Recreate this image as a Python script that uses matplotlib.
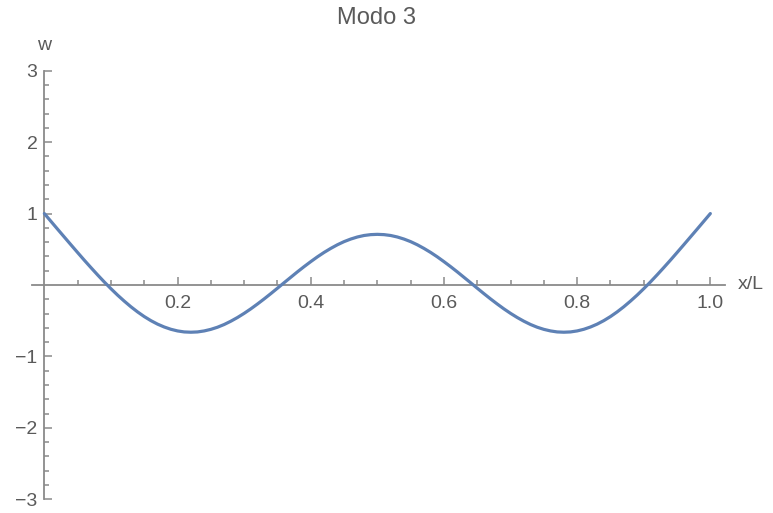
import matplotlib
matplotlib.use("Agg")
import matplotlib.pyplot as plt
from matplotlib.ticker import FixedLocator, FuncFormatter

# Mode 3 shape of the beam, sampled along x/L every 0.01
x_over_L = [0.00, 0.01, 0.02, 0.03, 0.04, 0.05, 0.06, 0.07, 0.08, 0.09,
            0.10, 0.11, 0.12, 0.13, 0.14, 0.15, 0.16, 0.17, 0.18, 0.19,
            0.20, 0.21, 0.22, 0.23, 0.24, 0.25, 0.26, 0.27, 0.28, 0.29,
            0.30, 0.31, 0.32, 0.33, 0.34, 0.35, 0.36, 0.37, 0.38, 0.39,
            0.40, 0.41, 0.42, 0.43, 0.44, 0.45, 0.46, 0.47, 0.48, 0.49,
            0.50, 0.51, 0.52, 0.53, 0.54, 0.55, 0.56, 0.57, 0.58, 0.59,
            0.60, 0.61, 0.62, 0.63, 0.64, 0.65, 0.66, 0.67, 0.68, 0.69,
            0.70, 0.71, 0.72, 0.73, 0.74, 0.75, 0.76, 0.77, 0.78, 0.79,
            0.80, 0.81, 0.82, 0.83, 0.84, 0.85, 0.86, 0.87, 0.88, 0.89,
            0.90, 0.91, 0.92, 0.93, 0.94, 0.95, 0.96, 0.97, 0.98, 0.99,
            1.00]
w = [1.000, 0.890, 0.780, 0.671, 0.562, 0.454, 0.347, 0.243, 0.141, 0.042,
     -0.052, -0.142, -0.226, -0.305, -0.377, -0.442, -0.499, -0.548, -0.588, -0.620,
     -0.643, -0.657, -0.661, -0.657, -0.643, -0.621, -0.591, -0.553, -0.507, -0.455,
     -0.397, -0.334, -0.266, -0.195, -0.121, -0.045, 0.032, 0.108, 0.184, 0.257,
     0.327, 0.394, 0.456, 0.512, 0.563, 0.607, 0.643, 0.672, 0.693, 0.705,
     0.709, 0.705, 0.693, 0.672, 0.643, 0.607, 0.563, 0.512, 0.456, 0.394,
     0.327, 0.257, 0.184, 0.108, 0.032, -0.045, -0.121, -0.195, -0.266, -0.334,
     -0.397, -0.455, -0.507, -0.553, -0.591, -0.621, -0.643, -0.657, -0.661, -0.657,
     -0.643, -0.620, -0.588, -0.548, -0.499, -0.442, -0.377, -0.305, -0.226, -0.142,
     -0.052, 0.042, 0.141, 0.243, 0.347, 0.454, 0.562, 0.671, 0.780, 0.890,
     1.000]

x_ticks = [0.2, 0.4, 0.6, 0.8, 1.0]
y_ticks = [-3, -2, -1, 1, 2, 3]

title = "Modo 3"
x_label = "x/L"
y_label = "w"

line_color = "#5E81B5"
axis_color = "#8a8a8a"
text_color = "#5a5a5a"

plt.rcParams["font.family"] = ["Liberation Sans", "DejaVu Sans"]

fig = plt.figure(figsize=(7.73, 5.13), dpi=100)
ax = fig.add_axes([0.0410, 0.0267, 0.8969, 0.8355])

ax.plot(x_over_L, w, color=line_color, lw=2.3, solid_joinstyle="round",
        solid_capstyle="round", zorder=3)

ax.set_xlim(-0.019, 1.022)
ax.set_ylim(-3, 3)

# axes crossing at the origin
for side in ("top", "right"):
    ax.spines[side].set_visible(False)
ax.spines["left"].set_position(("data", 0))
ax.spines["bottom"].set_position(("data", 0))
for side in ("left", "bottom"):
    ax.spines[side].set_color(axis_color)
    ax.spines[side].set_linewidth(1.3)
    ax.spines[side].set_zorder(2)

ax.xaxis.set_major_locator(FixedLocator(x_ticks))
ax.yaxis.set_major_locator(FixedLocator(y_ticks))
# minor ticks, leaving the origin free
ax.xaxis.set_minor_locator(FixedLocator([i * 0.05 for i in range(1, 21)]))
ax.yaxis.set_minor_locator(FixedLocator([i * 0.2 for i in range(-15, 16) if i != 0]))

ax.xaxis.set_major_formatter(FuncFormatter(lambda v, p: f"{v:.1f}"))
ax.yaxis.set_major_formatter(FuncFormatter(lambda v, p: f"{int(round(v))}".replace("-", "\u2212")))

ax.tick_params(which="both", direction="in", color=axis_color, width=1.1)
ax.tick_params(which="major", length=6, labelsize=14, labelcolor=text_color)
ax.tick_params(which="minor", length=3.5)
ax.tick_params(axis="x", which="major", pad=7)
ax.tick_params(axis="y", which="major", pad=5)

fig.text(0.487, 0.965, title, ha="center", va="center", fontsize=17, color=text_color)
ax.annotate(y_label, xy=(0, 3), xycoords="data", xytext=(0, 12),
            textcoords="offset points", ha="center", va="bottom",
            fontsize=14, color=text_color, annotation_clip=False)
ax.annotate(x_label, xy=(1.022, 0), xycoords="data", xytext=(9, 0),
            textcoords="offset points", ha="left", va="center",
            fontsize=14, color=text_color, annotation_clip=False)

fig.savefig("out.png", dpi=100, facecolor="white")
